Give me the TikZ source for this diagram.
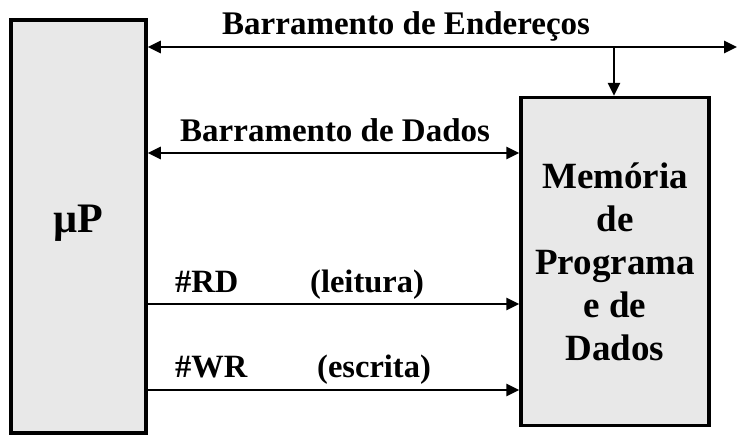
\documentclass[tikz,border=0pt]{standalone}
\usepackage{fontspec}
\setmainfont{Liberation Serif}
\usetikzlibrary{arrows.meta}
\definecolor{boxgray}{HTML}{E8E8E8}
\begin{document}
\begin{tikzpicture}[x=1pt,y=-1pt,
  box/.style={draw=black, line width=3.5pt, fill=boxgray, inner sep=0pt},
  bus/.style={line width=2.6pt, arrows={-{Triangle[length=13pt,width=12pt]}}},
  busb/.style={line width=2.6pt, arrows={{Triangle[length=13pt,width=12pt]}-{Triangle[length=13pt,width=12pt]}}},
  lbl/.style={font=\bfseries\fontsize{33}{36}\selectfont, inner sep=0pt, anchor=base west},
  sig/.style={font=\bfseries\fontsize{32.5}{36}\selectfont, inner sep=0pt, anchor=base west}]
\useasboundingbox (0,0) rectangle (754,444);
\node[box, minimum width=135pt, minimum height=413pt,
      font=\bfseries\fontsize{42}{46}\selectfont] (mp) at (78.5,226.5) {\raisebox{16pt}{µP}};
\node[box, minimum width=188pt, minimum height=328pt, align=center,
      font=\bfseries\fontsize{37}{43}\selectfont] (mem) at (615,261.5)
      {Memória\\de\\Programa\\e de\\Dados};
\coordinate (abEnd) at (737,47);
\coordinate (tap) at (614,47);
\coordinate (db) at (0,153);
\coordinate (rd) at (0,304);
\coordinate (wr) at (0,390);
\draw[busb] (mp.east |- abEnd) -- (abEnd);
\draw[bus] (tap) -- (tap |- mem.north);
\draw[busb] (mp.east |- db) -- (mem.west |- db);
\draw[bus] (mp.east |- rd) -- (mem.west |- rd);
\draw[bus] (mp.east |- wr) -- (mem.west |- wr);
\node[lbl] (lab1) at (222,35) {Barramento de Endereços};
\node[lbl] (lab2) at (180,141) {Barramento de Dados};
\node[sig] (rdl) at (175,292) {\#RD};
\node[sig] (rdt) at (310,292) {(leitura)};
\node[sig] (wrl) at (175,377) {\#WR};
\node[sig] (wrt) at (317,377) {(escrita)};
\end{tikzpicture}
\end{document}
